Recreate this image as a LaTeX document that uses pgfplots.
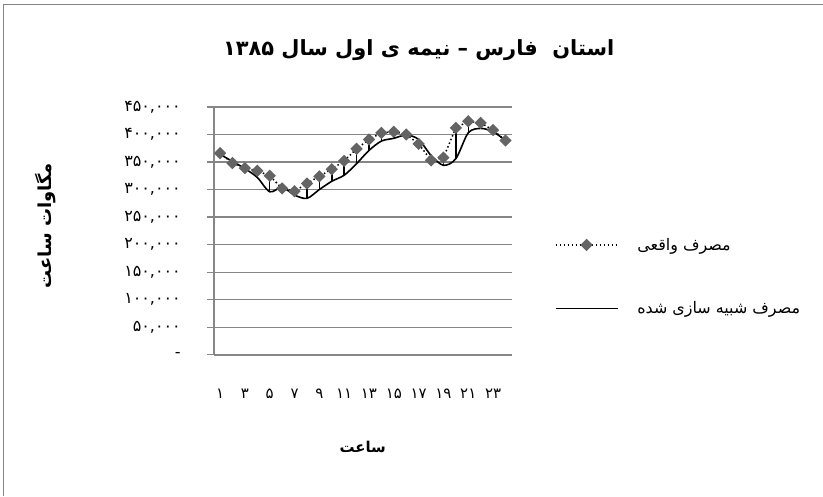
\documentclass[border=0pt]{standalone}
\usepackage{pgfplots}
\pgfplotsset{compat=1.18}
\usepackage{pgfplotstable}
\usepackage{fontspec}
\setmainfont{DejaVu Sans}
\newfontfamily\arabicfont[Script=Arabic]{DejaVu Sans}
\TeXXeTstate=1
\definecolor{axgray}{RGB}{134,134,134}
\definecolor{diagray}{RGB}{100,100,100}
\pgfplotstableread{
h act sim
1 366000 364000
2 348000 351000
3 339000 338000
4 334000 322000
5 325000 296000
6 302000 304000
7 297000 290000
8 311000 284000
9 324000 300000
10 337000 315000
11 352000 326000
12 374000 347000
13 391000 371000
14 403000 388000
15 405000 393000
16 400000 399000
17 383000 391000
18 353000 362000
19 358000 344000
20 412000 356000
21 424000 403000
22 421000 411000
23 408000 405000
24 389000 389000
}\datatable
\begin{document}
\begin{tikzpicture}
\path (0bp,0bp) rectangle (823bp,496bp);
\draw[axgray, line width=1bp] (3.5bp,0bp) -- (3.5bp,491bp) -- (823bp,491bp);
\begin{axis}[
  at={(214bp,141bp)}, anchor=south west,
  width=298bp, height=248bp, scale only axis,
  xmin=0.5, xmax=24.5, ymin=0, ymax=450000,
  scaled y ticks=false,
  axis lines*=left,
  axis line style={axgray, line width=1.5bp},
  ymajorgrids, grid style={axgray, line width=1.2bp},
  ytick={0,50000,...,450000},
  yticklabels={-, {۵۰,۰۰۰}, {۱۰۰,۰۰۰}, {۱۵۰,۰۰۰}, {۲۰۰,۰۰۰}, {۲۵۰,۰۰۰}, {۳۰۰,۰۰۰}, {۳۵۰,۰۰۰}, {۴۰۰,۰۰۰}, {۴۵۰,۰۰۰}},
  xtick={1,3,...,23},
  xticklabels={۱,۳,۵,۷,۹,۱۱,۱۳,۱۵,۱۷,۱۹,۲۱,۲۳},
  tick align=outside, major tick length=7bp,
  y tick style={axgray, line width=1.2bp},
  x tick style={draw=none},
  yticklabel style={font=\arabicfont\fontsize{16}{18}\selectfont, anchor=east, inner sep=0pt, xshift=-26bp},
  xticklabel style={font=\arabicfont\fontsize{15}{17}\selectfont, anchor=north, inner sep=0pt, yshift=-27bp},
  legend style={at={(1.144,0.315)}, anchor=west, draw=none, fill=none, inner sep=0pt,
    row sep=50bp, column sep=19bp, font=\arabicfont\fontsize{16}{18}\selectfont, nodes={inner sep=0pt}},
  legend cell align=left,
  legend image code/.code={\draw[mark repeat=2,mark phase=2,#1] plot coordinates {(0bp,0bp) (31bp,0bp) (62bp,0bp)};},
]
\addplot[black, line width=1.5bp, dash pattern=on 1.5bp off 2.5bp, mark=square*, mark size=3.6bp,
  mark options={solid, rotate=45, fill=diagray, draw=diagray}] table[x=h, y=act] {\datatable};
\addlegendentry{\beginR مصرف واقعی\endR}
\addplot[black, line width=1.6bp, smooth, mark=none] table[x=h, y=sim] {\datatable};
\addlegendentry{\beginR مصرف شبیه سازی شده\endR}
\addplot[draw=none, mark=none, forget plot,
  error bars/.cd, y dir=both, y explicit, error mark=none,
  error bar style={black, line width=1.5bp, solid}]
  table[x=h, y=act, y error plus expr={max(\thisrow{sim}-\thisrow{act},0)},
        y error minus expr={max(\thisrow{act}-\thisrow{sim},0)}] {\datatable};
\end{axis}
\node[font=\arabicfont\bfseries\fontsize{21}{25}\selectfont] at (419bp,446bp) {\beginR استان\ \ فارس – نیمه ی اول سال \beginL۱۳۸۵\endL\endR};
\node[rotate=90, font=\arabicfont\bfseries\fontsize{18}{21}\selectfont] at (46bp,270bp) {\beginR مگاوات ساعت\endR};
\node[font=\arabicfont\bfseries\fontsize{15}{18}\selectfont] at (363bp,49bp) {\beginR ساعت\endR};
\end{tikzpicture}
\end{document}
